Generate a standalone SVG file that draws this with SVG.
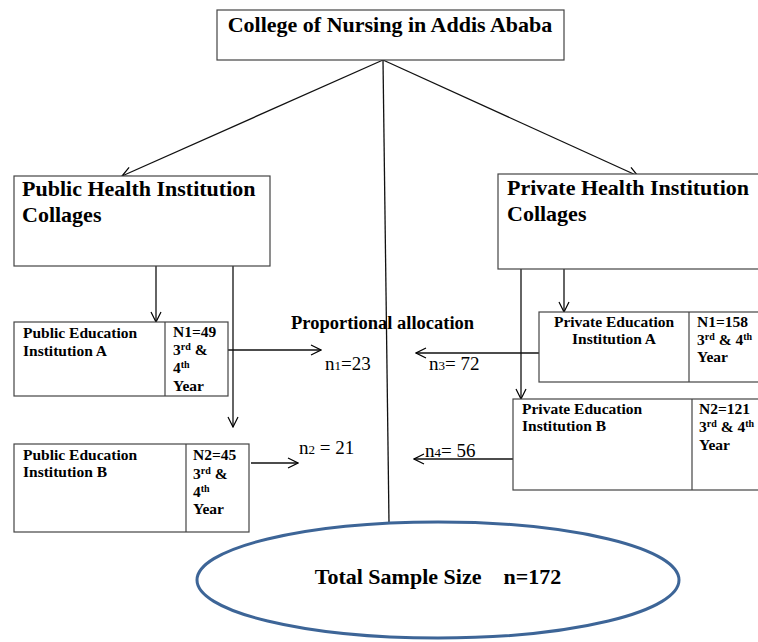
<svg xmlns="http://www.w3.org/2000/svg" width="758" height="642" viewBox="0 0 758 642">
<defs>
<marker id="arr" markerWidth="12" markerHeight="12" refX="11" refY="6" orient="auto" markerUnits="userSpaceOnUse">
<path d="M1,1 L11,6 L1,11" fill="none" stroke="#000" stroke-width="1.2"/>
</marker>
<style>
.box{fill:#fff;stroke:#444;stroke-width:1.2}
.ln{stroke:#111;stroke-width:1.3;fill:none}
.t{font-family:"Liberation Serif","Times New Roman",serif;fill:#000}
.b{font-weight:bold}
.h{font-size:22px}
.s{font-size:15.5px}
.n{font-size:19px}
.sup{font-size:10px}
</style>
</defs>
<rect width="758" height="642" fill="#fff"/>
<g id="connectors">
<line class="ln" x1="383" y1="60" x2="122" y2="176" marker-end="url(#arr)"/>
<line class="ln" x1="383" y1="60" x2="638" y2="176" marker-end="url(#arr)"/>
<line class="ln" x1="383" y1="60" x2="389" y2="523"/>
<line class="ln" x1="156" y1="266" x2="156" y2="322" marker-end="url(#arr)"/>
<line class="ln" x1="233" y1="266" x2="233" y2="427" marker-end="url(#arr)"/>
<line class="ln" x1="564" y1="269" x2="564" y2="312" marker-end="url(#arr)"/>
<line class="ln" x1="521" y1="268" x2="521" y2="399" marker-end="url(#arr)"/>
<line class="ln" x1="228" y1="350" x2="321" y2="350" marker-end="url(#arr)"/>
<line class="ln" x1="251" y1="463" x2="298" y2="463" marker-end="url(#arr)"/>
<line class="ln" x1="540" y1="353" x2="416" y2="353" marker-end="url(#arr)"/>
<line class="ln" x1="513" y1="459" x2="414" y2="459" marker-end="url(#arr)"/>
</g>
<g id="college">
<rect class="box" x="217" y="10" width="347" height="50"/>
<text class="t b h" x="390" y="32" text-anchor="middle">College of Nursing in Addis Ababa</text>
</g>
<g id="public">
<rect class="box" x="14" y="176" width="256" height="90"/>
<text class="t b h" x="22" y="196">Public Health Institution</text>
<text class="t b h" x="22" y="222">Collages</text>
</g>
<g id="private">
<rect class="box" x="498" y="174" width="262" height="95"/>
<text class="t b h" x="507" y="195">Private Health Institution</text>
<text class="t b h" x="507" y="221">Collages</text>
</g>
<g id="pubA">
<rect class="box" x="14" y="322" width="214" height="74"/>
<line class="box" x1="165" y1="322" x2="165" y2="396"/>
<text class="t b s" x="23" y="338">Public Education</text>
<text class="t b s" x="23" y="356">Institution A</text>
<text class="t b s" x="173" y="337">N1=49</text>
<text class="t b s" x="173" y="355">3<tspan class="sup" dy="-5">rd</tspan><tspan dy="5"> &amp;</tspan></text>
<text class="t b s" x="173" y="373">4<tspan class="sup" dy="-5">th</tspan></text>
<text class="t b s" x="173" y="391">Year</text>
</g>
<g id="pubB">
<rect class="box" x="14" y="444" width="235" height="88"/>
<line class="box" x1="186" y1="444" x2="186" y2="532"/>
<text class="t b s" x="23" y="460">Public Education</text>
<text class="t b s" x="23" y="477">Institution B</text>
<text class="t b s" x="193" y="460">N2=45</text>
<text class="t b s" x="193" y="479">3<tspan class="sup" dy="-5">rd</tspan><tspan dy="5"> &amp;</tspan></text>
<text class="t b s" x="193" y="497">4<tspan class="sup" dy="-5">th</tspan></text>
<text class="t b s" x="193" y="514">Year</text>
</g>
<g id="privA">
<rect class="box" x="539" y="312" width="222" height="70"/>
<line class="box" x1="689" y1="312" x2="689" y2="382"/>
<text class="t b s" x="614" y="327" text-anchor="middle">Private Education</text>
<text class="t b s" x="614" y="344" text-anchor="middle">Institution A</text>
<text class="t b s" x="697" y="327">N1=158</text>
<text class="t b s" x="697" y="345">3<tspan class="sup" dy="-5">rd</tspan><tspan dy="5"> &amp; 4</tspan><tspan class="sup" dy="-5">th</tspan></text>
<text class="t b s" x="697" y="362">Year</text>
</g>
<g id="privB">
<rect class="box" x="513" y="399" width="248" height="91"/>
<line class="box" x1="692" y1="399" x2="692" y2="490"/>
<text class="t b s" x="522" y="414">Private Education</text>
<text class="t b s" x="522" y="431">Institution B</text>
<text class="t b s" x="699" y="414">N2=121</text>
<text class="t b s" x="699" y="432">3<tspan class="sup" dy="-5">rd</tspan><tspan dy="5"> &amp; 4</tspan><tspan class="sup" dy="-5">th</tspan></text>
<text class="t b s" x="699" y="450">Year</text>
</g>
<g id="labels">
<text class="t b" font-size="18.5" x="291" y="329">Proportional allocation</text>
<text class="t n" x="325" y="370">n<tspan font-size="13">1</tspan>=23</text>
<text class="t n" x="299" y="454">n<tspan font-size="13">2</tspan> = 21</text>
<text class="t n" x="429" y="370">n<tspan font-size="13">3</tspan>= 72</text>
<text class="t n" x="425" y="457">n<tspan font-size="13">4</tspan>= 56</text>
</g>
<g id="total">
<ellipse cx="438" cy="580" rx="241" ry="58" fill="#fff" stroke="#3d6597" stroke-width="3"/>
<text class="t b" font-size="22" x="438" y="584" text-anchor="middle" xml:space="preserve">Total Sample Size    n=172</text>
</g>
</svg>
